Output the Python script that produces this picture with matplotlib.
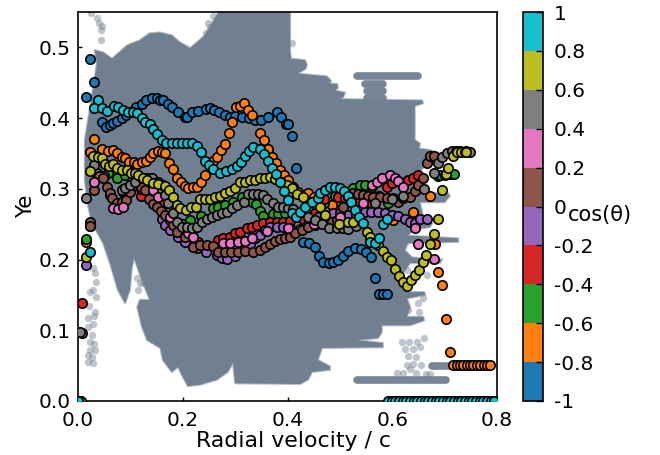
import numpy as np
import matplotlib
matplotlib.use('Agg')
import matplotlib.pyplot as plt
from matplotlib.colors import ListedColormap, BoundaryNorm
from matplotlib.cm import ScalarMappable

# background cloud outline (all tracers)
cloud_x = [.032,.048,.065,.094,.118,.137,.157,.179,.195,.214,.227,.242,.267,.270,.405,.405,.407,.433,.437,.435,.42,.475,.483,.481,.495,.496,.491,.51,.506,.491,.5,.657,.659,.643,.643,.653,.651,.672,.69,.66,.653,.649,.647,.706,.71,.70,.653,.659,.676,.672,.64,.63,.726,.726,.63,.624,.638,.695,.691,.634,.615,.615,.63,.661,.663,.628,.634,.628,.659,.661,.634,.58,.58,.573,.533,.582,.582,.466,.458,.481,.481,.447,.439,.424,.30,.296,.286,.265,.233,.21,.2,.191,.179,.162,.157,.132,.122,.113,.118,.137,.122,.107,.103,.099,.09,.076,.061,.048,.036,.027,.019,.013,.013,.023,.029,.036]
cloud_y = [.496,.493,.484,.503,.51,.52,.521,.517,.507,.499,.507,.517,.548,.56,.56,.494,.484,.482,.476,.47,.463,.459,.453,.449,.448,.443,.439,.436,.429,.424,.427,.425,.421,.417,.369,.364,.357,.355,.35,.33,.326,.322,.294,.294,.29,.281,.281,.26,.251,.246,.242,.234,.23,.225,.223,.213,.203,.2,.195,.195,.175,.171,.154,.154,.15,.145,.133,.119,.119,.114,.107,.107,.097,.089,.086,.082,.076,.075,.058,.049,.044,.041,.03,.024,.025,.054,.041,.03,.023,.021,.034,.048,.041,.058,.075,.086,.105,.133,.143,.143,.171,.202,.189,.157,.138,.157,.195,.223,.239,.249,.277,.312,.369,.415,.443,.477]

# detached streaks of the cloud
streak_y = [.46, .448, .438, .428, .03, .049]
streak_x0 = [.533, .548, .552, .552, .533, .676]
streak_x1 = [.649, .582, .582, .582, .703, .787]

# loose cloud points
dot_x = [.025,.036,.04,.046,.044,.044,.258,.248,.252,.244,.409,.029,.032,.034,.029,.023,.034,.021,.032,.02,.03,.029,.02,.027,.023,.03,.023,.032,.027,.019,.029,.019,.113,.118,.115,.124,.619,.632,.647,.661,.624,.64,.653,.63,.645,.628,.64,.655,.634,.61,.62,.645,.665,.672,.649,.659,.651,.63,.666,.628]
dot_y = [.548,.542,.534,.53,.524,.511,.544,.534,.529,.521,.506,.188,.181,.168,.157,.154,.147,.134,.126,.118,.12,.109,.105,.093,.083,.081,.072,.072,.062,.055,.054,.065,.174,.167,.157,.167,.083,.083,.083,.089,.073,.073,.076,.064,.062,.051,.052,.051,.045,.04,.04,.04,.038,.038,.138,.146,.126,.128,.178,.185]

# Ye vs radial velocity, one track per cos(theta) bin
blue_x = [.023,.031,.015,.046,.053,.061,.067,.074,.084,.092,.101,.111,.122,.13,.141,.15,.157,.162,.172,.179,.191,.204,.208,.218,.23,.244,.252,.26,.27,.28,.29,.3,.313,.326,.338,.35,.363,.38,.388,.397,.40,.409,.416,.424,.43,.441,.452,.46,.468,.479,.487,.497,.506,.516,.529,.54,.549,.559,.567,.575,.583,.59]
blue_y = [.484,.451,.43,.394,.388,.39,.393,.396,.4,.405,.408,.415,.42,.425,.428,.428,.426,.425,.42,.415,.408,.401,.402,.408,.41,.413,.414,.412,.408,.405,.402,.403,.402,.4,.398,.397,.402,.408,.402,.391,.391,.374,.329,.242,.225,.224,.218,.205,.196,.195,.196,.2,.205,.212,.217,.215,.211,.203,.174,.151,.151,.151]
orange_x = [.015,.031,.023,.034,.046,.057,.067,.074,.084,.09,.097,.107,.113,.122,.13,.137,.143,.153,.16,.166,.174,.181,.189,.197,.204,.21,.22,.227,.235,.242,.258,.265,.273,.281,.288,.294,.302,.309,.317,.325,.332,.347,.355,.363,.37,.378,.386,.393,.401,.41,.42,.439,.45,.468,.485,.601,.64,.672,.682,.687,.695,.703,.71,.716,.723,.73,.736,.742,.749,.755,.762,.768,.775,.78,.786]
orange_y = [.225,.371,.352,.347,.356,.353,.355,.35,.345,.343,.338,.338,.335,.338,.34,.345,.35,.353,.352,.35,.336,.328,.316,.31,.304,.301,.302,.302,.31,.32,.339,.345,.355,.363,.379,.394,.416,.417,.421,.412,.404,.379,.369,.357,.345,.336,.326,.32,.312,.302,.295,.294,.288,.281,.277,.256,.267,.29,.222,.182,.164,.116,.069,.051,.051,.051,.051,.051,.051,.051,.051,.051,.051,.051,.051]
green_x = [.015,.057,.074,.09,.103,.12,.14,.17,.2,.214,.235,.258,.267,.281,.296,.313,.332,.34,.347,.353,.372,.382,.395,.41,.44,.47,.49,.51,.525,.538,.548,.562,.592,.687,.691,.70,.71,.718]
green_y = [.229,.323,.316,.319,.323,.315,.305,.28,.25,.256,.262,.273,.274,.277,.281,.288,.281,.278,.268,.261,.264,.264,.266,.265,.27,.28,.29,.295,.301,.305,.306,.303,.28,.318,.319,.32,.321,.321]
red_x = [.008,.085,.12,.157,.19,.23,.267,.277,.29,.3,.309,.323,.332,.342,.353,.367,.38,.391,.405,.43,.453,.47,.496,.51,.53,.56,.575,.59,.6,.615,.63,.64,.649]
red_y = [.138,.3,.29,.281,.245,.225,.227,.23,.232,.237,.239,.244,.246,.249,.251,.253,.253,.253,.254,.258,.266,.285,.288,.287,.283,.28,.29,.302,.308,.31,.312,.315,.319]
purple_x = [.015,.022,.036,.05,.061,.085,.12,.16,.166,.176,.191,.205,.227,.245,.265,.275,.284,.3,.315,.328,.338,.347,.357,.367,.38,.391,.405,.424,.44,.458,.472,.487,.5,.514,.53,.548,.56,.573,.586,.6,.611,.624,.634,.643,.653,.666]
purple_y = [.192,.248,.323,.318,.291,.296,.3,.257,.249,.242,.232,.225,.216,.21,.206,.202,.201,.205,.213,.222,.23,.234,.242,.246,.246,.246,.244,.243,.25,.26,.263,.266,.266,.263,.265,.267,.267,.267,.266,.263,.261,.258,.253,.251,.258,.257]
brown_x = [.005,.023,.023,.031,.04,.048,.055,.061,.065,.074,.084,.092,.099,.107,.113,.12,.128,.136,.143,.151,.158,.166,.176,.181,.189,.204,.22,.233,.246,.258,.267,.281,.293,.305,.319,.334,.347,.357,.367,.376,.386,.395,.405,.414,.428,.439,.453,.468,.485,.495,.5,.506,.515,.525,.535,.544,.554,.563,.577,.59,.601,.611,.621,.634,.643,.649,.659,.666,.672,.68]
brown_y = [0,.253,.248,.299,.318,.315,.302,.294,.287,.28,.281,.284,.295,.305,.311,.302,.298,.285,.278,.274,.268,.263,.256,.249,.239,.232,.218,.22,.22,.219,.211,.211,.211,.211,.212,.211,.213,.218,.222,.226,.229,.23,.232,.237,.242,.246,.249,.251,.253,.256,.266,.274,.288,.294,.292,.291,.29,.288,.288,.287,.287,.281,.287,.288,.297,.305,.316,.336,.346,.347]
pink_x = [.008,.03,.067,.076,.085,.143,.153,.175,.21,.22,.277,.29,.305,.319,.332,.36,.4,.45,.5,.544,.561,.571,.58,.596,.605,.611,.62,.643,.649,.68]
pink_y = [.096,.31,.273,.271,.275,.299,.288,.26,.237,.232,.223,.223,.225,.226,.23,.24,.245,.25,.26,.28,.305,.31,.315,.319,.316,.311,.302,.244,.222,.201]
gray_x = [.003,.015,.031,.084,.09,.099,.109,.122,.132,.141,.153,.162,.166,.172,.181,.189,.199,.208,.218,.227,.237,.246,.256,.265,.275,.284,.294,.304,.317,.325,.334,.344,.353,.361,.372,.382,.391,.401,.41,.439,.453,.465,.48,.495,.506,.516,.53,.567,.6,.62,.66,.68,.687,.695,.705,.714,.722,.73,.74,.748]
gray_y = [.097,.287,.333,.298,.301,.305,.309,.316,.316,.315,.31,.305,.291,.28,.266,.253,.246,.246,.244,.246,.253,.258,.26,.263,.266,.267,.273,.277,.282,.292,.292,.292,.291,.285,.28,.275,.274,.273,.271,.26,.256,.25,.245,.244,.244,.243,.248,.28,.285,.29,.30,.323,.336,.345,.35,.353,.353,.353,.353,.352]
olive_x = [.015,.023,.029,.038,.046,.052,.059,.066,.074,.084,.094,.101,.109,.115,.124,.132,.143,.153,.166,.174,.181,.189,.195,.206,.216,.225,.233,.242,.252,.262,.271,.281,.29,.3,.309,.319,.328,.338,.347,.357,.367,.376,.388,.399,.409,.418,.43,.462,.472,.498,.515,.525,.552,.558,.573,.582,.59,.598,.605,.613,.62,.628,.636,.643,.651,.659,.664,.672,.68,.687,.695,.703,.706,.716,.724,.731,.739,.741]
olive_y = [.204,.325,.346,.345,.343,.335,.332,.335,.329,.326,.326,.323,.322,.319,.315,.312,.308,.307,.304,.298,.288,.277,.273,.27,.274,.274,.285,.285,.285,.288,.29,.294,.297,.301,.31,.31,.312,.312,.315,.315,.317,.314,.31,.306,.301,.292,.288,.274,.263,.25,.253,.253,.239,.232,.22,.212,.203,.199,.186,.177,.168,.162,.171,.178,.185,.196,.206,.222,.236,.257,.298,.321,.33,.347,.352,.352,.352,.352]
cyan_x = [0,.023,.038,.031,.046,.055,.069,.077,.086,.095,.105,.113,.122,.128,.137,.143,.151,.16,.168,.179,.189,.199,.208,.218,.227,.235,.242,.25,.258,.271,.282,.294,.304,.311,.319,.326,.334,.347,.355,.363,.37,.378,.386,.393,.401,.409,.416,.424,.433,.447,.458,.462,.472,.481,.491,.5,.508,.515,.521,.529,.537,.544,.558,.567,.575,.582,.59,
          .592,.6,.606,.613,.62,.627,.634,.641,.648,.655,.662,.669,.676,.683,.69,.697,.704,.711,.718,.725,.732,.739,.746,.753,.76,.767,.774,.781,.788,.795]
cyan_y = [0,.21,.425,.414,.414,.41,.417,.415,.412,.409,.408,.407,.4,.394,.391,.384,.377,.369,.365,.365,.365,.365,.365,.365,.36,.352,.34,.333,.328,.323,.325,.328,.332,.338,.347,.353,.359,.357,.349,.339,.329,.321,.31,.297,.284,.266,.26,.267,.274,.281,.287,.294,.299,.302,.302,.301,.297,.29,.282,.27,.26,.251,.225,.223,.23,.25,.257,
          0,0,0,0,0,0,0,0,0,0,0,0,0,0,0,0,0,0,0,0,0,0,0,0,0,0,0,0,0,0]

series_x = [blue_x, orange_x, green_x, red_x, purple_x, brown_x, pink_x, gray_x, olive_x, cyan_x]
series_y = [blue_y, orange_y, green_y, red_y, purple_y, brown_y, pink_y, gray_y, olive_y, cyan_y]
colors = ['tab:blue', 'tab:orange', 'tab:green', 'tab:red', 'tab:purple',
          'tab:brown', 'tab:pink', 'tab:gray', 'tab:olive', 'tab:cyan']
cos_bounds = [-1, -0.8, -0.6, -0.4, -0.2, 0, 0.2, 0.4, 0.6, 0.8, 1]
cos_labels = ['-1', '-0.8', '-0.6', '-0.4', '-0.2', '0', '0.2', '0.4', '0.6', '0.8', '1']

plt.rcParams['font.size'] = 14.5

fig = plt.figure(figsize=(6.6, 4.55), dpi=100)
ax = fig.add_axes([78/660, 54/455, 419/660, 389/455])
cax = fig.add_axes([523/660, 54/455, 20/660, 389/455])

cloud_col = '#708090'
ax.fill(cloud_x, cloud_y, facecolor=cloud_col, edgecolor=(0.44, 0.5, 0.565, 0.5), lw=1.5, zorder=1)
for y, x0, x1 in zip(streak_y, streak_x0, streak_x1):
    ax.plot([x0, x1], [y, y], color=cloud_col, lw=5.5, solid_capstyle='round', alpha=0.95, zorder=1)
ax.scatter(dot_x, dot_y, s=28, color=cloud_col, alpha=0.45, lw=0, zorder=1)

for i in range(len(series_x)):
    ax.scatter(series_x[i], series_y[i], s=46, color=colors[i], edgecolor='black', lw=1.2, zorder=2 + i)

ax.set_xlim(0, 0.8)
ax.set_ylim(0, 0.55)
ax.set_xticks([0, 0.2, 0.4, 0.6, 0.8])
ax.set_yticks([0, 0.1, 0.2, 0.3, 0.4, 0.5])
ax.tick_params(direction='in', length=3, width=1, pad=5)
ax.tick_params(axis='x', pad=7)
ax.set_xlabel('Radial velocity / c', fontsize=15.8, x=0.514, labelpad=1)
ax.set_ylabel('Ye', fontsize=15.5, labelpad=2)
for s in ax.spines.values():
    s.set_linewidth(1.2)

cmap = ListedColormap(colors)
norm = BoundaryNorm(cos_bounds, cmap.N)
cb = fig.colorbar(ScalarMappable(norm=norm, cmap=cmap), cax=cax, ticks=cos_bounds)
cb.ax.set_yticklabels(cos_labels)
cb.ax.tick_params(direction='in', length=5, width=1, pad=8, right=True)
cb.set_label('cos(θ)', rotation=0, fontsize=15, ha='left', va='center')
cb.ax.yaxis.set_label_coords(2.25, 0.478)
cb.outline.set_linewidth(1.2)

fig.savefig('out.png', dpi=100)
